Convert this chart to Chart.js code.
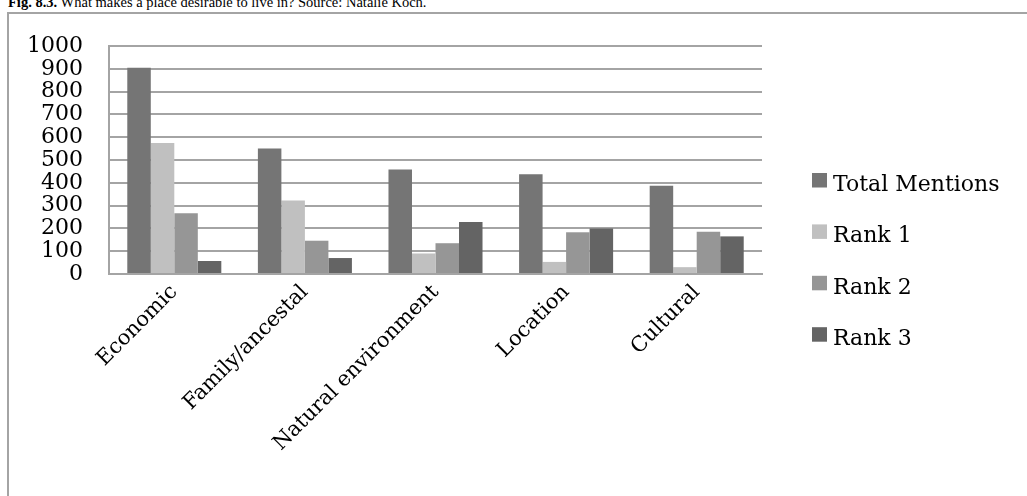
<!DOCTYPE html>
<html>
<head>
<meta charset="utf-8">
<title>What makes a place desirable to live in?</title>
<script src="https://cdn.jsdelivr.net/npm/chart.js@4/dist/chart.umd.min.js"></script>
<style>
  html, body { margin: 0; padding: 0; background: #fff; }
  body { width: 1027px; height: 496px; position: relative; overflow: hidden; }
  #caption {
    position: absolute; left: 8px; top: -5px; margin: 0;
    font: 14.5px/1 "Liberation Serif", "Times New Roman", serif; color: #000; white-space: nowrap;
  }
  #caption b { font-weight: bold; }
  #frame {
    position: absolute; left: 7px; top: 12px; width: 1040px; height: 500px;
    border-left: 2px solid #a4a4a4; border-top: 2px solid #a4a4a4;
  }
  #wrap { position: absolute; left: 0; top: 0; width: 1027px; height: 496px; }
</style>
</head>
<body>
<p id="caption"><b>Fig. 8.3.</b> What makes a place desirable to live in? Source: Natalie Koch.</p>
<div id="frame"></div>
<div id="wrap"><canvas id="chart"></canvas></div>
<script>
// Reasons given for a place being desirable, by number of mentions
const categories = ["Economic", "Family/ancestal", "Natural environment", "Location", "Cultural"];
const totalMentions = [905, 550, 458, 437, 387];
const rank1 = [575, 322, 90, 53, 30];
const rank2 = [266, 146, 135, 183, 185];
const rank3 = [57, 70, 228, 200, 165];
const seriesNames = ["Total Mentions", "Rank 1", "Rank 2", "Rank 3"];
const yTicks = { min: 0, max: 1000, step: 100 };

const seriesColors = ["#757575", "#c0c0c0", "#969696", "#646464"];
const seriesValues = [totalMentions, rank1, rank2, rank3];
const gridColor = "#a4a4a4";
const serif = '"DejaVu Serif", serif';

// Legend drawn as a stacked column to the right of the plot
const sideLegend = {
  id: "sideLegend",
  afterDraw(chart) {
    const ctx = chart.ctx;
    const x = 812, firstBaseline = 191, step = 51.4;
    ctx.save();
    ctx.font = "22px " + serif;
    ctx.textBaseline = "alphabetic";
    ctx.textAlign = "left";
    chart.data.datasets.forEach((ds, i) => {
      const base = firstBaseline + i * step;
      ctx.fillStyle = ds.backgroundColor;
      ctx.fillRect(x, base - 18, 15, 14.5);
      ctx.fillStyle = "#000";
      ctx.fillText(ds.label, x + 21, base);
    });
    ctx.restore();
  }
};

new Chart(document.getElementById("chart"), {
  type: "bar",
  data: {
    labels: categories,
    datasets: seriesNames.map((name, i) => ({
      label: name,
      data: seriesValues[i],
      backgroundColor: seriesColors[i],
      borderWidth: 0,
      categoryPercentage: 0.72,
      barPercentage: 1.0
    }))
  },
  options: {
    responsive: true,
    maintainAspectRatio: false,
    animation: false,
    layout: { padding: { left: 27, top: 46, right: 265, bottom: 0 } },
    plugins: {
      legend: { display: false },
      tooltip: { enabled: false },
      title: { display: false }
    },
    scales: {
      x: {
        grid: { display: false, drawTicks: false },
        border: { display: true, color: gridColor, width: 2 },
        ticks: {
          autoSkip: false,
          maxRotation: 45,
          minRotation: 45,
          padding: 6,
          color: "#000",
          font: { family: serif, size: 21 }
        },
        afterFit(scale) { scale.height = 496 - 274; }
      },
      y: {
        min: yTicks.min,
        max: yTicks.max,
        grid: { color: gridColor, lineWidth: 2, drawTicks: false },
        border: { display: true, color: gridColor, width: 2 },
        ticks: {
          stepSize: yTicks.step,
          autoSkip: false,
          padding: 26,
          color: "#000",
          font: { family: serif, size: 22, lineHeight: 1 },
          callback: (v) => String(v)
        },
        afterFit(scale) { scale.width = 109 - 27; }
      }
    }
  },
  plugins: [sideLegend]
});
</script>
</body>
</html>
